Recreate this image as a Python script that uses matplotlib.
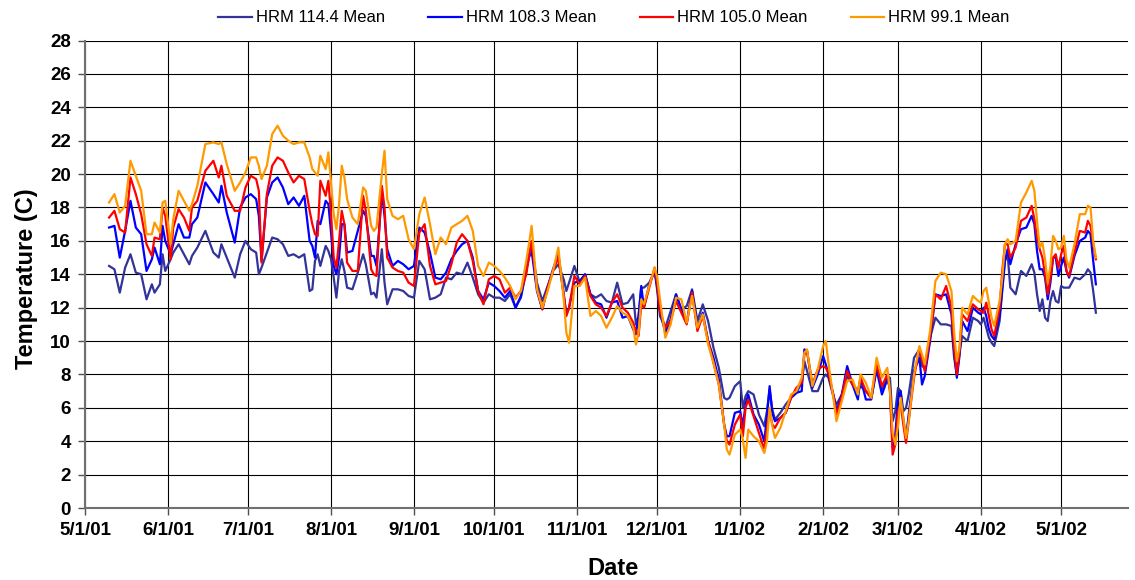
import numpy as np
import matplotlib
matplotlib.use("Agg")
import matplotlib.pyplot as plt
import matplotlib.dates as mdates

plt.rcParams["font.family"] = ["Liberation Sans", "DejaVu Sans"]

# days since 5/1/01 for each reading
day = [
    9, 11, 13, 15, 17, 19, 21, 23, 25, 26, 28, 29, 30, 32, 33, 35, 37, 39, 40, 42, 45, 48, 50, 51, 53, 56,
    58, 60, 62, 64, 65, 66, 68, 70, 72, 74, 76, 78, 80, 82, 84, 85, 86, 87, 88, 90, 91, 92, 93, 94, 95, 96, 97, 98, 100,
    102, 104, 105, 107, 108, 109, 111, 112, 113, 115, 117, 119, 121, 123, 125, 127, 129, 131, 133, 135, 137, 139, 141,
    143, 145, 147, 149,
    151, 153, 155, 157, 159, 161, 163, 165, 166, 167, 169, 171, 173, 175, 177, 179, 180, 181, 183, 185, 187, 189, 191,
    193, 195, 197,
    199, 201, 203, 205, 206, 207, 208, 209, 211, 213, 214, 215, 217, 219, 221, 223, 225, 227, 229, 231, 233, 235, 237,
    239, 240, 241, 243,
    245, 246, 247, 248, 250, 252, 254, 255, 256, 257, 258, 260, 262, 264, 266, 268, 269, 270, 272, 274, 276, 277, 278,
    280, 281, 283, 285, 287, 289, 290,
    292, 294, 296, 298, 300, 301, 302, 303, 304, 305, 306, 307, 308, 310, 312, 313, 314, 316, 318, 320, 322, 324, 325,
    326, 327, 328, 330, 332, 334, 335,
    336, 337, 338, 339, 340, 342, 343, 344, 345, 346, 348, 350, 352, 354, 355, 356, 357, 358, 359, 360, 361, 362, 363,
    364, 365, 366, 367, 368, 370, 372, 374, 375, 376, 377, 378,
]

hrm_114 = [
    14.5, 14.3, 12.9, 14.4, 15.2, 14.1, 14.0, 12.5, 13.4, 12.9, 13.4, 15.2, 14.2, 14.9, 15.3, 15.8, 15.2, 14.6, 15.1,
    15.6, 16.6, 15.3, 15.0, 15.8, 15.0, 13.8,
    15.2, 16.0, 15.5, 15.3, 14.0, 14.4, 15.3, 16.2, 16.1, 15.8, 15.1, 15.2, 15.0, 15.2, 13.0, 13.1, 14.8, 15.2, 14.5,
    15.7, 15.4, 14.9, 13.8, 12.6, 14.2, 14.9, 14.2, 13.2, 13.1,
    14.1, 15.2, 14.6, 12.8, 12.9, 12.6, 15.5, 13.5, 12.2, 13.1, 13.1, 13.0, 12.7, 12.6, 14.8, 14.3, 12.5, 12.6, 12.8,
    13.8, 13.7, 14.1, 14.0, 14.7, 13.8, 12.8, 12.3,
    12.8, 12.6, 12.6, 12.4, 12.8, 12.0, 12.6, 14.2, 15.2, 15.8, 13.5, 12.4, 13.3, 14.2, 14.6, 13.7, 13.0, 13.5, 14.5,
    13.5, 14.0, 12.8, 12.6, 12.8, 12.4, 12.3,
    13.5, 12.2, 12.3, 12.8, 11.0, 11.5, 13.2, 13.2, 13.5, 14.2, 13.0, 11.5, 10.8, 11.8, 12.8, 11.9, 12.1, 13.1, 11.2,
    12.2, 11.2, 9.6, 8.4, 6.6, 6.5, 6.6, 7.3,
    7.6, 6.0, 6.7, 7.0, 6.8, 5.6, 4.9, 5.8, 7.1, 5.9, 5.3, 5.7, 6.2, 6.6, 6.9, 7.5, 8.8, 8.2, 7.0, 7.0, 7.8, 8.0, 7.8,
    6.6, 6.2, 6.8, 7.9, 7.4, 7.0, 7.3,
    7.0, 6.6, 8.4, 7.1, 7.9, 7.8, 5.2, 5.8, 7.2, 7.0, 5.8, 6.0, 6.8, 9.0, 9.5, 8.5, 8.4, 10.2, 11.4, 11.0, 11.0, 10.9,
    9.0, 8.0, 9.3, 10.3, 10.0, 11.4, 11.2, 11.0,
    11.4, 10.8, 10.2, 9.9, 9.7, 11.2, 13.0, 14.8, 15.2, 13.2, 12.8, 14.2, 13.9, 14.6, 14.1, 12.8, 11.8, 12.5, 11.4,
    11.2, 12.4, 13.0, 12.4, 12.3, 13.3, 13.2, 13.2, 13.2, 13.8, 13.7, 14.0, 14.3, 14.1, 13.0, 11.7,
]

hrm_108 = [
    16.8, 16.9, 15.0, 16.6, 18.4, 16.8, 16.4, 14.2, 14.9, 15.6, 14.6, 16.9, 16.0, 15.2, 15.8, 17.0, 16.2, 16.2, 17.0,
    17.4, 19.5, 18.8, 18.3, 19.3, 17.7, 15.9,
    18.0, 18.6, 18.8, 18.5, 17.5, 14.8, 18.6, 19.5, 19.8, 19.2, 18.2, 18.6, 18.1, 18.7, 16.0, 15.7, 15.0, 17.2, 17.0,
    18.4, 18.2, 16.5, 14.5, 14.0, 15.0, 17.0, 17.0, 15.3, 15.4,
    16.6, 17.8, 17.5, 15.1, 15.1, 14.5, 18.9, 17.5, 15.5, 14.5, 14.8, 14.6, 14.3, 14.5, 16.8, 16.5, 15.3, 13.8, 13.7,
    14.1, 14.9, 15.4, 15.8, 16.0, 15.0, 13.0, 12.5,
    13.5, 13.3, 13.0, 12.6, 13.0, 12.0, 12.7, 14.3, 15.0, 15.4, 13.0, 11.9, 13.2, 14.3, 15.2, 12.8, 11.6, 12.0, 13.5,
    13.6, 14.0, 12.8, 12.3, 12.2, 11.4, 12.3,
    12.4, 11.4, 11.5, 10.7, 10.4, 11.5, 13.3, 12.0, 13.4, 14.2, 13.2, 11.8, 10.5, 11.3, 12.8, 11.9, 11.1, 13.0, 10.8,
    11.7, 10.0, 9.0, 7.7, 5.0, 4.3, 4.3, 5.7,
    5.8, 4.9, 6.2, 6.8, 5.6, 5.0, 4.0, 5.5, 7.3, 5.7, 5.2, 5.4, 5.7, 6.6, 6.9, 7.0, 9.5, 9.4, 7.2, 8.0, 9.1, 8.6, 8.0,
    6.7, 5.8, 6.8, 8.5, 7.4, 6.5, 7.8,
    6.5, 6.5, 8.3, 6.8, 7.7, 7.2, 3.6, 4.4, 6.5, 7.0, 5.3, 4.2, 5.6, 8.2, 9.0, 7.4, 7.9, 10.0, 12.8, 12.7, 12.8, 11.6,
    9.4, 7.8, 9.1, 11.2, 10.6, 12.0, 11.7, 11.6,
    12.0, 11.5, 10.7, 10.3, 10.1, 11.5, 13.2, 14.8, 15.5, 14.6, 15.8, 16.7, 16.8, 17.5, 17.0, 15.4, 14.3, 14.3, 13.8,
    12.5, 13.5, 15.0, 15.0, 13.9, 14.5, 15.0, 14.2, 13.8, 15.1, 16.0, 16.2, 16.6, 16.4, 14.8, 13.4,
]

hrm_105 = [
    17.4, 17.8, 16.7, 16.5, 19.8, 18.8, 17.6, 15.8, 15.1, 16.2, 16.1, 18.0, 17.5, 14.9, 16.8, 17.9, 17.4, 16.6, 18.0,
    18.4, 20.2, 20.8, 19.8, 20.5, 18.7, 17.8,
    17.8, 19.2, 19.9, 19.7, 19.0, 14.7, 18.8, 20.5, 21.0, 20.8, 20.1, 19.5, 19.9, 19.7, 17.8, 17.0, 16.4, 16.3, 19.6,
    18.7, 19.6, 17.6, 15.0, 14.4, 16.0, 17.8, 17.0, 14.7, 14.2,
    14.2, 18.7, 17.8, 14.3, 14.0, 13.9, 19.3, 18.0, 15.0, 14.4, 14.2, 14.1, 13.5, 13.3, 16.5, 17.0, 14.5, 13.4, 13.5,
    13.6, 14.6, 15.9, 16.4, 16.0, 14.8, 13.0, 12.2,
    13.7, 13.9, 13.7, 12.9, 13.2, 12.6, 13.0, 14.0, 15.0, 16.0, 13.2, 11.9, 13.2, 14.2, 15.0, 12.8, 11.5, 12.0, 13.9,
    13.4, 13.9, 12.7, 12.2, 12.0, 11.5, 12.3,
    12.8, 12.0, 11.7, 11.1, 10.6, 10.3, 12.2, 12.0, 13.2, 14.4, 13.4, 11.8, 10.8, 11.2, 12.4, 11.7, 11.0, 12.9, 10.6,
    11.5, 10.0, 8.7, 7.4, 5.0, 4.0, 3.8, 5.0,
    5.6, 4.3, 6.0, 6.5, 5.5, 4.5, 3.5, 4.8, 5.9, 5.0, 4.8, 5.4, 5.7, 6.6, 7.2, 7.5, 9.2, 9.4, 7.4, 8.3, 8.5, 8.4, 8.1,
    6.6, 5.6, 6.7, 8.2, 7.4, 7.0, 7.8,
    7.0, 6.6, 8.6, 7.3, 8.0, 7.0, 3.2, 3.8, 5.8, 6.2, 5.0, 3.9, 5.2, 7.8, 9.6, 8.9, 8.2, 10.3, 12.8, 12.5, 13.3, 12.0,
    9.6, 8.0, 9.4, 11.6, 11.2, 12.2, 11.9, 11.8,
    11.7, 12.3, 11.5, 10.7, 10.3, 12.0, 14.2, 15.8, 15.8, 15.0, 15.6, 17.2, 17.4, 18.1, 17.3, 16.2, 15.5, 15.0, 14.0,
    12.8, 13.8, 15.0, 15.2, 14.4, 15.2, 15.7, 14.2, 13.9, 15.3, 16.6, 16.5, 17.2, 16.9, 15.8, 14.9,
]

hrm_99 = [
    18.3, 18.8, 17.7, 18.1, 20.8, 19.9, 19.0, 16.4, 16.4, 17.1, 16.5, 18.3, 18.4, 15.8, 17.3, 19.0, 18.4, 17.8, 18.2,
    19.3, 21.8, 21.9, 21.8, 21.9, 20.6, 19.0,
    19.5, 20.1, 21.0, 21.0, 20.5, 19.7, 20.5, 22.4, 22.9, 22.3, 22.0, 21.8, 21.9, 21.9, 21.0, 20.3, 20.1, 19.9, 21.1,
    20.3, 21.3, 19.5, 17.6, 16.7, 18.2, 20.5, 19.8, 18.5, 17.4,
    17.0, 19.2, 19.0, 16.9, 16.6, 16.8, 20.0, 21.4, 18.5, 17.5, 17.3, 17.5, 16.1, 15.5, 17.6, 18.6, 17.0, 15.2, 16.2,
    15.8, 16.8, 17.0, 17.2, 17.5, 16.6, 14.5, 13.9,
    14.7, 14.5, 14.2, 13.8, 13.3, 12.5, 13.0, 14.8, 15.8, 16.9, 13.1, 12.0, 13.0, 14.2, 15.6, 12.5, 10.5, 9.9, 13.3,
    13.3, 13.8, 11.5, 11.8, 11.5, 10.8, 11.4,
    12.1, 11.7, 11.5, 10.8, 9.8, 10.5, 12.5, 12.2, 13.3, 14.4, 13.8, 12.5, 10.2, 11.0, 12.6, 12.5, 11.1, 12.7, 10.8,
    11.6, 9.8, 8.7, 7.4, 5.0, 3.5, 3.2, 4.4,
    4.7, 4.1, 3.0, 4.7, 4.3, 4.0, 3.3, 4.0, 6.0, 4.9, 4.2, 4.8, 5.8, 6.8, 7.0, 7.8, 9.3, 9.5, 7.3, 8.3, 9.7, 10.0, 8.7,
    6.4, 5.2, 6.4, 7.6, 7.7, 6.8, 8.0,
    7.5, 6.6, 9.0, 7.8, 8.4, 7.0, 4.5, 3.8, 4.9, 6.6, 5.4, 4.2, 5.2, 8.0, 9.7, 9.2, 8.6, 10.6, 13.6, 14.1, 14.0, 13.0,
    10.5, 8.8, 9.6, 12.0, 11.6, 12.7, 12.4, 12.3,
    13.0, 13.2, 12.3, 11.4, 10.9, 12.4, 13.8, 15.8, 16.1, 15.8, 16.0, 18.3, 18.9, 19.6, 19.0, 17.2, 15.6, 15.9, 14.9,
    13.5, 14.5, 16.3, 16.0, 15.5, 15.6, 16.3, 14.9, 14.4, 15.8, 17.6, 17.6, 18.1, 18.0, 16.0, 15.0,
]

series = [
    ("HRM 114.4 Mean", hrm_114, "#333399"),
    ("HRM 108.3 Mean", hrm_108, "#0000FF"),
    ("HRM 105.0 Mean", hrm_105, "#FF0000"),
    ("HRM 99.1 Mean", hrm_99, "#FF9900"),
]

dates = np.datetime64("2001-05-01") + np.array(day).astype("timedelta64[D]")

fig = plt.figure(figsize=(11.35, 5.8), dpi=100)
ax = fig.add_axes([0.0749, 0.1241, 0.9189, 0.806])

for name, vals, col in series:
    ax.plot(dates, vals, color=col, lw=1.6, label=name)

ax.set_xlim(np.datetime64("2001-05-01"), np.datetime64("2002-05-26"))
ax.set_ylim(0, 28)
ax.set_yticks(np.arange(0, 29, 2))

ax.xaxis.set_major_locator(mdates.MonthLocator())
ax.xaxis.set_major_formatter(
    plt.FuncFormatter(lambda x, pos: "{d.month}/{d.day}/{d:%y}".format(d=mdates.num2date(x)))
)

ax.grid(True, color="black", lw=0.8)
ax.set_axisbelow(True)
for s in ["top", "right"]:
    ax.spines[s].set_visible(False)
for s in ["left", "bottom"]:
    ax.spines[s].set_color("#707070")
    ax.spines[s].set_linewidth(1.5)

ax.tick_params(axis="both", length=5, width=1, color="#505050", pad=5, labelsize=13.5)
for lbl in ax.get_xticklabels() + ax.get_yticklabels():
    lbl.set_fontweight("bold")

ax.set_ylabel("Temperature (C)", fontsize=17, fontweight="bold")
ax.set_xlabel("Date", fontsize=17, fontweight="bold")
ax.yaxis.set_label_coords(-0.045, 0.49)
ax.xaxis.set_label_coords(0.506, -0.104)

fig.legend(loc="center", bbox_to_anchor=(0.541, 0.969), ncol=4, frameon=False,
           fontsize=12, handlelength=2.0, handletextpad=0.25, columnspacing=2.6)

fig.savefig("out.png", dpi=100)
